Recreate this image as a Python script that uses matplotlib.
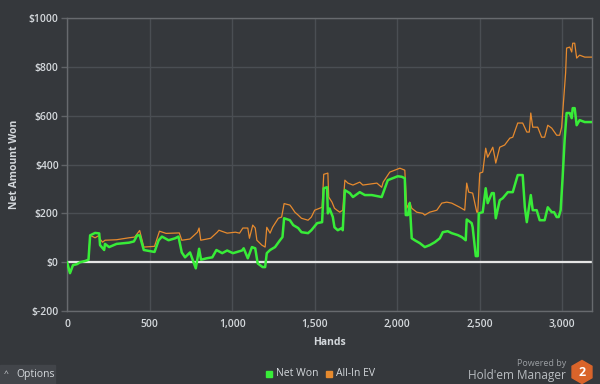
import matplotlib
matplotlib.use("Agg")
import matplotlib.pyplot as plt
from matplotlib.patches import Rectangle, RegularPolygon

plt.rcParams['font.family'] = ['Open Sans', 'DejaVu Sans']

# Net Won (green)
net_hands = [0, 18, 36, 60, 80, 110, 130, 140, 170, 195, 200, 225, 230, 255, 300, 375,
             405, 425, 440, 465, 530, 555, 575, 615, 655, 675, 695, 715, 745, 780, 800, 812,
             845, 880, 905, 940, 970, 1005, 1060, 1070, 1095, 1120, 1140, 1155, 1185, 1200,
             1210, 1230, 1260, 1290, 1305, 1315, 1350, 1370, 1400, 1420, 1460, 1480, 1515,
             1545, 1555, 1575, 1580, 1590, 1610, 1620, 1640, 1665, 1670, 1683, 1713, 1732,
             1773, 1804, 1846, 1906, 1943, 1973, 2003, 2027, 2046, 2052, 2065, 2076, 2088,
             2106, 2137, 2167, 2197, 2228, 2258, 2276, 2306, 2330, 2367, 2391, 2415, 2421,
             2451, 2457, 2476, 2488, 2494, 2518, 2536, 2548, 2573, 2585, 2597, 2621, 2639,
             2670, 2700, 2730, 2760, 2773, 2785, 2809, 2821, 2845, 2863, 2893, 2912, 2936,
             2950, 2966, 2978, 2990, 3002, 3014, 3026, 3045, 3057, 3063, 3075, 3087, 3105,
             3136, 3178]
net_won = [0, -45, -12, -8, 0, 5, 10, 110, 120, 118, 70, 50, 75, 62, 75, 80,
           85, 110, 110, 50, 42, 90, 105, 90, 98, 105, 40, 20, 40, -25, 55, 10,
           16, 20, 50, 37, 48, 37, 48, 57, 16, 62, 57, -5, -20, -20,
           37, 50, 62, 90, 103, 180, 172, 152, 140, 123, 119, 131, 160,
           164, 303, 307, 200, 220, 185, 143, 131, 140, 131, 295, 283, 267,
           287, 275, 275, 267, 336, 344, 352, 350, 344, 193, 193, 242, 98,
           90, 78, 62, 70, 82, 98, 123, 127, 119, 111, 103, 90, 175,
           160, 143, 25, 25, 200, 205, 303, 242, 283, 283, 180, 254, 262,
           287, 287, 357, 357, 225, 164, 275, 213, 213, 172, 172, 225, 205,
           205, 185, 185, 213, 348, 500, 611, 611, 590, 631, 631, 561, 582,
           574, 574]

# All-In EV (orange)
ev_hands = [0, 18, 36, 60, 80, 110, 130, 140, 170, 195, 200, 215, 230, 300, 375, 410,
            440, 465, 530, 560, 600, 680, 695, 745, 790, 800, 810, 870, 910, 920, 970,
            1020, 1045, 1065, 1095, 1105, 1125, 1140, 1150, 1180, 1200, 1210, 1230, 1245,
            1280, 1300, 1315, 1350, 1360, 1380, 1400, 1420, 1460, 1480, 1500, 1545, 1555,
            1580, 1585, 1605, 1620, 1635, 1652, 1670, 1683, 1701, 1732, 1773, 1792, 1877,
            1906, 1915, 1955, 1985, 2016, 2046, 2058, 2076, 2088, 2118, 2155, 2167, 2197,
            2240, 2270, 2300, 2330, 2379, 2409, 2421, 2433, 2457, 2482, 2488, 2500, 2518,
            2536, 2548, 2579, 2591, 2597, 2621, 2651, 2682, 2700, 2730, 2760, 2785, 2800,
            2809, 2821, 2851, 2875, 2893, 2912, 2936, 2966, 2984, 2996, 3008, 3020, 3026,
            3045, 3057, 3063, 3075, 3087, 3105, 3136, 3178]
all_in_ev = [0, -45, -12, -8, 0, 5, 10, 110, 100, 110, 95, 82, 90, 92, 100, 103,
             130, 62, 65, 127, 118, 120, 90, 95, 123, 140, 90, 98, 123, 131, 119,
             123, 119, 140, 140, 98, 152, 140, 90, 70, 62, 143, 119, 143,
             180, 185, 240, 234, 225, 205, 193, 180, 172, 185, 213, 225, 360,
             365, 267, 246, 221, 213, 205, 213, 336, 324, 316, 328, 316, 324,
             307, 328, 369, 377, 385, 377, 221, 246, 221, 205, 200, 193, 205,
             213, 242, 246, 242, 225, 213, 324, 287, 283, 205, 205, 365, 369,
             467, 430, 471, 430, 406, 471, 480, 508, 512, 570, 570, 533, 533,
             611, 553, 553, 512, 512, 561, 549, 520, 520, 553, 664, 775, 877,
             881, 861, 897, 897, 836, 848, 840, 840]

x_ticks = [0, 500, 1000, 1500, 2000, 2500, 3000]
x_labels = ["0", "500", "1,000", "1,500", "2,000", "2,500", "3,000"]
y_ticks = [-200, 0, 200, 400, 600, 800, 1000]
y_labels = ["$-200", "$0", "$200", "$400", "$600", "$800", "$1000"]

bg = "#35383c"
txt = "#d4d8dc"
green = "#38ec38"
orange = "#e68a2e"

fig = plt.figure(figsize=(6, 3.84), dpi=100, facecolor=bg)
ax = fig.add_axes([0.1117, 0.19, 0.875, 0.763], facecolor=bg)

ax.grid(True, color="#4a4e53", linewidth=1.0)
ax.set_axisbelow(True)
ax.axhline(0, color="#e6e6e6", linewidth=1.6, zorder=2)
ax.plot(ev_hands, all_in_ev, color=orange, linewidth=0.9, zorder=3)
ax.plot(net_hands, net_won, color=green, linewidth=1.8, zorder=4)

ax.set_xlim(0, 3180)
ax.set_ylim(-200, 1000)
ax.set_xticks(x_ticks)
ax.set_xticklabels(x_labels)
ax.set_yticks(y_ticks)
ax.set_yticklabels(y_labels)
ax.tick_params(axis="x", length=0, pad=6, colors=txt, labelsize=7.5)
ax.tick_params(axis="y", length=4, width=1, color="#606367", pad=2, colors=txt, labelsize=7.5)
for lab in ax.get_xticklabels() + ax.get_yticklabels():
    lab.set_fontweight("semibold")
for s in ax.spines.values():
    s.set_color("#676a6e")
    s.set_linewidth(1.0)

ax.set_xlabel("Hands", color=txt, fontsize=7.5, fontweight="bold", labelpad=5)
ax.set_ylabel("Net Amount Won", color=txt, fontsize=7.5, fontweight="bold", labelpad=6)

# legend
fig.add_artist(Rectangle((266 / 600, 1 - 377 / 384), 6 / 600, 6 / 384,
                         transform=fig.transFigure, color=green))
fig.text(276 / 600, 1 - 374 / 384, "Net Won", color=txt, fontsize=7.5, va="center")
fig.add_artist(Rectangle((326 / 600, 1 - 377 / 384), 6 / 600, 6 / 384,
                         transform=fig.transFigure, color=orange))
fig.text(336 / 600, 1 - 374 / 384, "All-In EV", color=txt, fontsize=7.5, va="center")

# options button
fig.add_artist(Rectangle((0, 0), 55 / 600, 19 / 384, transform=fig.transFigure,
                         color="#42454a"))
fig.text(4 / 600, 1 - 375 / 384, "^", color=txt, fontsize=6, va="center")
fig.text(16 / 600, 1 - 375 / 384, "Options", color=txt, fontsize=7.5, va="center")

# branding
fig.text(566 / 600, 1 - 363 / 384, "Powered by", color="#9a9ea2", fontsize=6.5,
         ha="right", va="center")
fig.text(566 / 600, 1 - 375 / 384, "Hold'em Manager", color="#b8bcc0", fontsize=8.5,
         ha="right", va="center")
fig.add_artist(RegularPolygon((5.82, 0.12), numVertices=6, radius=0.115,
                              transform=fig.dpi_scale_trans, color="#d9642a"))
fig.text(582 / 600, 12 / 384, "2", color="white", fontsize=9, fontweight="bold",
         ha="center", va="center")

fig.savefig("out.png", dpi=100, facecolor=bg)
